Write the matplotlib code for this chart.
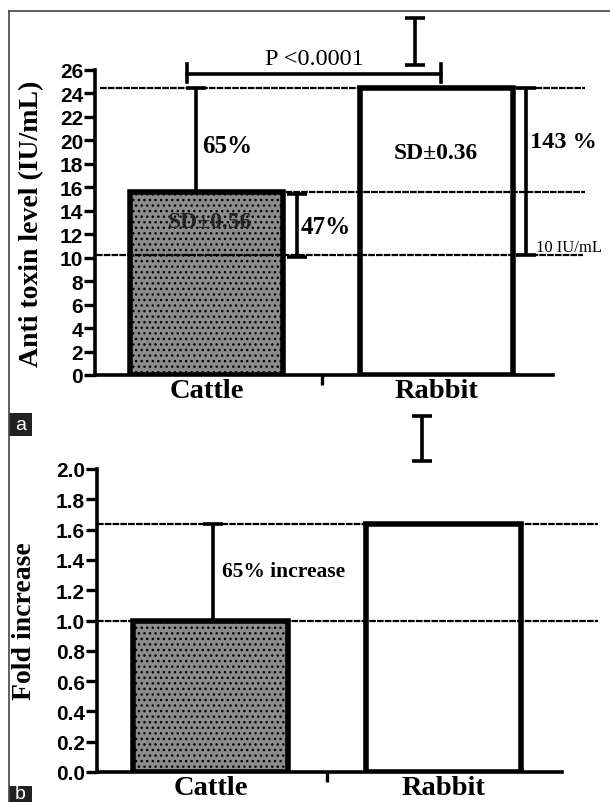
import numpy as np
import matplotlib
matplotlib.use("Agg")
import matplotlib.pyplot as plt
from matplotlib.lines import Line2D
from matplotlib.patches import Rectangle

# data
categories = ["Cattle", "Rabbit"]
antitoxin = [15.6, 24.5]          # IU/mL
fold_increase = [1.0, 1.64]
sd_labels = ["SD\u00b10.56", "SD\u00b10.36"]
protective_level = 10.2           # 10 IU/mL line
rabbit_sd_top = [26.4, 30.4]      # floating SD bar, panel a
rabbit_sd_bottom = [2.05, 2.35]   # floating SD bar, panel b
pct_labels = ["65%", "47%", "143 %"]
p_label = "P <0.0001"
yticks_a = np.arange(0, 27, 2)
yticks_b = np.arange(0, 2.01, 0.2)

SERIF = "Liberation Serif"
SANS = "Liberation Sans"
CATTLE_GREY = "#8c8c8c"
DOT = (0, (3, 0.5))

fig = plt.figure(figsize=(6.10, 8.03), dpi=100)

# thin frame on top and left like the journal layout
fig.add_artist(Line2D([9/610, 1.0], [1-12/803, 1-12/803], color="#444444", lw=1.2, transform=fig.transFigure))
fig.add_artist(Line2D([9/610, 9/610], [0, 1-12/803], color="#444444", lw=1.2, transform=fig.transFigure))


def style_axes(ax, yticks, fmt):
    for s in ["top", "right"]:
        ax.spines[s].set_visible(False)
    for s in ["left", "bottom"]:
        ax.spines[s].set_linewidth(2.6)
    ax.set_yticks(yticks)
    ax.set_yticklabels([fmt % v for v in yticks], fontfamily=SANS, fontweight="bold", fontsize=15)
    ax.tick_params(axis="y", length=8, width=2.4, pad=0.5)
    ax.set_xticks([0, 1])
    ax.set_xticklabels(categories, fontfamily=SERIF, fontweight="bold", fontsize=20.5)
    ax.tick_params(axis="x", length=0, pad=2)
    ax.set_xticks([0.5], minor=True)
    ax.tick_params(axis="x", which="minor", length=7, width=2.4)
    ax.set_xlim(-0.486, 1.506)


def draw_bars(ax, values):
    x = np.arange(len(values))
    ax.bar(x[0], values[0], width=0.665, color=CATTLE_GREY, edgecolor="black",
           linewidth=4, hatch="...", zorder=2)
    ax.bar(x[1], values[1], width=0.665, color="white", edgecolor="black",
           linewidth=4, zorder=2)


def ibar(ax, x, y0, y1, cap=7):
    ax.errorbar([x], [y0], yerr=[[0], [y1 - y0]], fmt="none", ecolor="black",
                elinewidth=2.6, capsize=cap, capthick=2.6, clip_on=False, zorder=4)


# ---------------- panel a ----------------
ax1 = fig.add_axes([95/610, 1-376/803, 458/610, 305/803])
draw_bars(ax1, antitoxin)
ax1.set_ylim(0, 26)
style_axes(ax1, yticks_a, "%d")
ax1.set_ylabel("Anti toxin level (IU/mL)", fontfamily=SERIF, fontweight="bold", fontsize=20)
ax1.yaxis.set_label_coords(-0.112, 0.5)

# reference lines
ax1.plot([-0.465, 1.646], [antitoxin[1]] * 2, color="black", lw=1.6, ls=DOT, clip_on=False, zorder=3)
ax1.plot([-0.333, 1.646], [antitoxin[0]] * 2, color="black", lw=1.6, ls=DOT, clip_on=False, zorder=3)
ax1.plot([-0.48, 1.637], [protective_level] * 2, color="black", lw=1.6, ls=DOT, clip_on=False, zorder=3)

# error / difference bars
ibar(ax1, 0.907, rabbit_sd_top[0], rabbit_sd_top[1])
ibar(ax1, -0.046, antitoxin[0], antitoxin[1])
ibar(ax1, 0.394, protective_level - 0.1, antitoxin[0] - 0.2)
ibar(ax1, 1.39, protective_level, antitoxin[1])

# P value bracket
ax1.plot([-0.085, 1.02], [25.7, 25.7], color="black", lw=2.6, clip_on=False, zorder=4)
for xe in [-0.085, 1.02]:
    ax1.plot([xe, xe], [25.0, 26.5], color="black", lw=2.6, clip_on=False, zorder=4)
ax1.text(0.468, 26.95, p_label, ha="center", va="center", fontfamily=SERIF, fontsize=17.5)

ax1.text(-0.02, 19.6, pct_labels[0], ha="left", va="center", fontfamily=SERIF, fontweight="bold", fontsize=18)
ax1.text(0.41, 12.7, pct_labels[1], ha="left", va="center", fontfamily=SERIF, fontweight="bold", fontsize=18)
ax1.text(1.406, 19.9, pct_labels[2], ha="left", va="center", fontfamily=SERIF, fontweight="bold", fontsize=17.5,
         clip_on=False)
ax1.text(0.015, 13.1, sd_labels[0], ha="center", va="center", fontfamily=SERIF, fontweight="bold",
         fontsize=17, color="#222222", zorder=5)
ax1.text(0.998, 19.0, sd_labels[1], ha="center", va="center", fontfamily=SERIF, fontweight="bold", fontsize=17)
ax1.text(1.43, 10.9, "10 IU/mL", ha="left", va="center", fontfamily=SERIF, fontsize=12)

# ---------------- panel b ----------------
ax2 = fig.add_axes([97/610, 1-773/803, 465/610, 303/803])
draw_bars(ax2, fold_increase)
ax2.set_ylim(0, 2.0)
style_axes(ax2, yticks_b, "%.1f")
ax2.set_ylabel("Fold increase", fontfamily=SERIF, fontweight="bold", fontsize=20)
ax2.yaxis.set_label_coords(-0.128, 0.5)

ax2.plot([-0.486, 1.66], [fold_increase[1]] * 2, color="black", lw=1.6, ls=DOT, clip_on=False, zorder=3)
ax2.plot([-0.486, 1.66], [fold_increase[0]] * 2, color="black", lw=1.6, ls=DOT, clip_on=False, zorder=3)

ibar(ax2, 0.906, rabbit_sd_bottom[0], rabbit_sd_bottom[1])
ibar(ax2, 0.011, fold_increase[0], fold_increase[1])
ax2.text(0.049, 1.33, "65% increase", ha="left", va="center", fontfamily=SERIF, fontweight="bold", fontsize=15.5)

# panel letters
for lab, y0, h in [("a", 1-437/803, 23/803), ("b", 0.0, 16/803)]:
    fig.add_artist(Rectangle((9/610, y0), 23/610, h, facecolor="#222222", edgecolor="none",
                             transform=fig.transFigure))
    fig.text(20.5/610, y0 + h/2, lab, color="white", ha="center", va="center", fontfamily=SANS, fontsize=14)

fig.savefig("out.png", dpi=100, facecolor="white")
